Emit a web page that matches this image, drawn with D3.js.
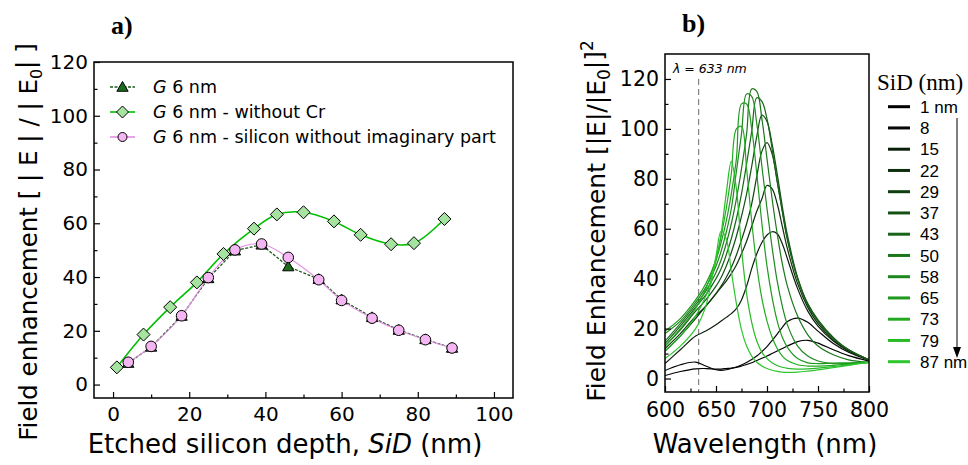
<!doctype html>
<html>
<head>
<meta charset="utf-8"/>
<title>Field enhancement vs etched silicon depth</title>
<script src="https://d3js.org/d3.v7.min.js"></script>
<style>
body { margin:0; background:#fff; }
svg text { font-family: "DejaVu Sans", sans-serif; fill:#000; }
</style>
</head>
<body>
<div id="chart"></div>
<script>
// ---------- panel a data ----------
var sidCr = [1, 8, 15, 22, 29, 37, 43, 50, 58, 65, 73, 79, 87];
var feCr  = [6.4, 18.6, 28.8, 38.0, 48.6, 58.0, 63.3, 64.1, 60.7, 55.7, 52.2, 52.6, 61.6];
var sidSi = [4, 10, 18, 25, 32, 39, 46, 54, 60, 68, 75, 82, 89];
var feSi  = [8.3, 14.2, 25.6, 39.8, 50.1, 52.3, 47.3, 39.0, 31.3, 24.7, 20.2, 16.7, 13.6];
var feG   = [8.0, 14.0, 25.5, 39.5, 49.8, 52.0, 43.9, 39.2, 31.6, 25.0, 20.3, 16.8, 13.6];
var legendA = [" 6 nm", " 6 nm - without Cr", " 6 nm - silicon without imaginary part"];

// ---------- panel b data ----------
var wl = [600,615,630,640,650,655,660,665,670,675,680,685,690,695,700,705,710,715,720,730,740,750,765,780,800];
var s1  = [1.2,2.8,3.9,4.0,3.8,3.8,4.0,4.2,4.5,5.0,5.6,6.3,7.2,8.1,9.0,10.0,11.0,12.0,13.0,14.8,15.3,14.2,11.5,9.2,7.0];
var s8  = [3.2,5.5,6.6,5.0,3.5,3.3,3.5,4.0,4.6,5.4,6.4,7.6,9.0,10.8,12.8,15.2,17.8,20.5,22.8,24.2,22.5,19.0,14.0,10.5,7.3];
var s15 = [6,11.5,17,19,21.5,23,24.5,26,28,31.5,37,44,50,54.5,57.5,58.8,58,54,48,36,27,21,15,11,7.5];
var s22 = [11,17,24,29,34,36.5,39,42,45.5,50,55,61,67,72,77.3,76,70,61,52,38,28.5,22,15.5,11,7.5];
var s29 = [12,18,25,29,34,37,40.5,44.5,49.5,55.5,62,70,81,91,94.5,90,79,67,55.5,40,29.5,23,16,11.5,7.5];
var s37 = [13,19.5,27,31.5,37,40.5,45,50.5,57,65,74,85,97,105.5,103,94,82,69,57.5,40.5,30,23.5,16.5,11.5,7.5];
var s43 = [14,21,28.5,33.5,40,44,49.5,56,64,74,86,99,112.5,111,104,92,79,67,56,40,29.5,23,16,11.5,7.5];
var s50 = [15,22,29.5,35,42.5,47.5,54,62,72,84,98,116,115,104,88,72,58,46,37,25,17.5,13,9.5,7.5,6.5];
var s58 = [18,23,30.5,36.5,45,51,58.5,68,83,98,114,113,102,85,68,52.5,39,29,21.5,13,9,7,6,6,6.5];
var s65 = [19,24,31.5,38,47.5,54.5,63,74,88,110,110,100,82,62,45,32.5,23,16.5,12.5,8,6.3,6,6.2,6.3,6.7];
var s73 = [13,20,28,36,48,57,68,82,100,101,84,63,45,32,23,16.5,12,9,7.2,5.5,5,5,5.3,5.8,6.5];
var s79 = [11,17,25,33,47,58,74,87,76,52,34,22.5,15,10.5,8,6.3,5.2,4.5,4.1,3.8,3.9,4.2,4.8,5.5,6.5];
var s87 = [8,13,20,29,49,59,56,43,30,19.5,13,9,6.5,5,4,3.3,2.9,2.6,2.5,2.6,3,3.5,4.4,5.3,6.5];
var seriesB = [s1, s8, s15, s22, s29, s37, s43, s50, s58, s65, s73, s79, s87];
var sidLabels = ["1 nm", "8", "15", "22", "29", "37", "43", "50", "58", "65", "73", "79", "87 nm"];
var sidColors = ["#000000", "#050905", "#0a1f0a", "#0c2e0c", "#0f3f0f", "#145214", "#186418",
                 "#1b761b", "#1d881d", "#1f9a1f", "#22ab22", "#26bb26", "#2ec62e"];

var svg = d3.select("#chart").append("svg")
    .attr("width", 968)
    .attr("height", 465);

function drawAxes(x, y, xMaj, xMin, yMaj, yMin, fs, padX, padY) {
    var b = y.range()[0], l = x.range()[0];
    var gx = svg.append("g").attr("transform", "translate(0," + b + ")")
        .call(d3.axisBottom(x).tickValues(xMaj).tickSize(-6).tickPadding(padX));
    var gx2 = svg.append("g").attr("transform", "translate(0," + b + ")")
        .call(d3.axisBottom(x).tickValues(xMin).tickSize(-3.5).tickFormat(""));
    var gy = svg.append("g").attr("transform", "translate(" + l + ",0)")
        .call(d3.axisLeft(y).tickValues(yMaj).tickSize(-6).tickPadding(padY));
    var gy2 = svg.append("g").attr("transform", "translate(" + l + ",0)")
        .call(d3.axisLeft(y).tickValues(yMin).tickSize(-3.5).tickFormat(""));
    [gx, gx2, gy, gy2].forEach(function(g) {
        g.select(".domain").remove();
        g.selectAll(".tick line").attr("stroke", "#000").attr("stroke-width", 1.2);
        g.selectAll(".tick text")
            .style("font-size", fs + "px")
            .style("font-family", "'DejaVu Sans', sans-serif");
    });
    svg.append("rect")
        .attr("x", l).attr("y", y.range()[1])
        .attr("width", x.range()[1] - l).attr("height", b - y.range()[1])
        .attr("fill", "none").attr("stroke", "#000").attr("stroke-width", 1.5);
}

// ================= panel a =================
var xa = d3.scaleLinear().domain([-5, 105]).range([94, 513]);
var ya = d3.scaleLinear().domain([-5, 120]).range([398, 62]);

function diamond(r) { return "M0," + (-r) + "L" + r + ",0L0," + r + "L" + (-r) + ",0Z"; }
var triPath = d3.symbol().type(d3.symbolTriangle).size(55)();

var lineSmooth = d3.line().curve(d3.curveCatmullRom.alpha(0.5));
var lineStraight = d3.line();

var ptsCr = sidCr.map(function(d, i) { return [xa(d), ya(feCr[i])]; });
var ptsSi = sidSi.map(function(d, i) { return [xa(d), ya(feSi[i])]; });
var ptsG  = sidSi.map(function(d, i) { return [xa(d), ya(feG[i])]; });

svg.append("path").attr("d", lineSmooth(ptsCr))
    .attr("fill", "none").attr("stroke", "#00c000").attr("stroke-width", 1.6);
svg.append("path").attr("d", lineStraight(ptsG))
    .attr("fill", "none").attr("stroke", "#1a5a1a").attr("stroke-width", 1.3)
    .attr("stroke-dasharray", "3,1.5");
svg.append("path").attr("d", lineSmooth(ptsSi))
    .attr("fill", "none").attr("stroke", "#e48ee4").attr("stroke-width", 1.1);

svg.selectAll(".mkCr").data(ptsCr).enter().append("path")
    .attr("d", diamond(6.5))
    .attr("transform", function(d) { return "translate(" + d[0] + "," + d[1] + ")"; })
    .attr("fill", "#a6e3a0").attr("stroke", "#000").attr("stroke-width", 1);
svg.selectAll(".mkG").data(ptsG).enter().append("path")
    .attr("d", triPath)
    .attr("transform", function(d) { return "translate(" + d[0] + "," + (d[1] + 1) + ")"; })
    .attr("fill", "#1c6e1c").attr("stroke", "#000").attr("stroke-width", 1);
svg.selectAll(".mkSi").data(ptsSi).enter().append("circle")
    .attr("cx", function(d) { return d[0]; }).attr("cy", function(d) { return d[1]; })
    .attr("r", 5.3)
    .attr("fill", "#f4b6f2").attr("stroke", "#000").attr("stroke-width", 1);

drawAxes(xa, ya, [0, 20, 40, 60, 80, 100], [10, 30, 50, 70, 90],
         [0, 20, 40, 60, 80, 100, 120], [10, 30, 50, 70, 90, 110], 20, 9, 6);

// legend a
var legA = svg.append("g");
var legColors = ["#1a5a1a", "#00c000", "#e48ee4"];
var legDash = ["3,1.5", null, null];
legendA.forEach(function(t, i) {
    var yy = 87 + i * 25;
    legA.append("line").attr("x1", 110).attr("x2", 135).attr("y1", yy).attr("y2", yy)
        .attr("stroke", legColors[i]).attr("stroke-width", 1.6).attr("stroke-dasharray", legDash[i]);
    if (i == 0) legA.append("path").attr("d", triPath).attr("transform", "translate(122.5," + (yy + 1) + ")")
        .attr("fill", "#1c6e1c").attr("stroke", "#000");
    if (i == 1) legA.append("path").attr("d", diamond(6)).attr("transform", "translate(122.5," + yy + ")")
        .attr("fill", "#a6e3a0").attr("stroke", "#000");
    if (i == 2) legA.append("circle").attr("cx", 122.5).attr("cy", yy).attr("r", 4.5)
        .attr("fill", "#f4b6f2").attr("stroke", "#000");
    var tx = legA.append("text").attr("x", 153).attr("y", yy).attr("dy", "0.36em")
        .style("font-size", "17.5px");
    tx.append("tspan").attr("font-style", "italic").text("G");
    tx.append("tspan").text(t);
});

// titles a
var xt = svg.append("text").attr("x", 285).attr("y", 453).attr("text-anchor", "middle")
    .style("font-size", "26px");
xt.append("tspan").text("Etched silicon depth, ");
xt.append("tspan").attr("font-style", "italic").text("SiD");
xt.append("tspan").text(" (nm)");

var yt = svg.append("text").attr("transform", "translate(37,242) rotate(-90)")
    .attr("text-anchor", "middle").style("font-size", "24.5px");
yt.append("tspan").text("Field enhancement [ | E | / | E");
yt.append("tspan").style("font-size", "16px").attr("dy", "0.3em").text("0");
yt.append("tspan").attr("dy", "-0.3em").text("| ]");

svg.append("text").attr("x", 111).attr("y", 34)
    .style("font-family", "'Liberation Serif', serif").attr("font-weight", "bold")
    .style("font-size", "26px").text("a)");

// ================= panel b =================
var xb = d3.scaleLinear().domain([600, 800]).range([665, 869]);
var yb = d3.scaleLinear().domain([-5.4, 130]).range([392, 54]);

svg.append("defs").append("clipPath").attr("id", "clipB")
    .append("rect").attr("x", 665).attr("y", 54).attr("width", 204).attr("height", 338);

// dashed 633 nm line
svg.append("line").attr("x1", xb(633)).attr("x2", xb(633)).attr("y1", 79).attr("y2", 392)
    .attr("stroke", "#777").attr("stroke-width", 1.1).attr("stroke-dasharray", "6,4");

var lineB = d3.line()
    .x(function(d, i) { return xb(wl[i]); })
    .y(function(d) { return yb(d); })
    .curve(d3.curveCatmullRom.alpha(0.5));

svg.append("g").attr("clip-path", "url(#clipB)")
    .selectAll("path").data(seriesB).enter().append("path")
    .attr("d", lineB)
    .attr("fill", "none")
    .attr("stroke", function(d, i) { return sidColors[i]; })
    .attr("stroke-width", 1.2);

drawAxes(xb, yb, [600, 650, 700, 750, 800], [625, 675, 725, 775],
         [0, 20, 40, 60, 80, 100, 120], [10, 30, 50, 70, 90, 110], 20.5, 10, 6);

svg.append("text").attr("x", 673).attr("y", 73).attr("font-style", "italic")
    .style("font-size", "12.5px").attr("fill", "#222").text("\u03bb = 633 nm");

svg.append("text").attr("x", 765).attr("y", 453).attr("text-anchor", "middle")
    .style("font-size", "26px").text("Wavelength (nm)");

var ytb = svg.append("text").attr("transform", "translate(605,221) rotate(-90)")
    .attr("text-anchor", "middle").style("font-size", "25px");
ytb.append("tspan").text("Field Enhancement [|E|/|E");
ytb.append("tspan").style("font-size", "17px").attr("dy", "0.3em").text("0");
ytb.append("tspan").attr("dy", "-0.3em").text("|]");
ytb.append("tspan").style("font-size", "17px").attr("dy", "-0.55em").text("2");

svg.append("text").attr("x", 682).attr("y", 32)
    .style("font-family", "'Liberation Serif', serif").attr("font-weight", "bold")
    .style("font-size", "26px").text("b)");

// legend b
svg.append("text").attr("x", 877).attr("y", 90)
    .style("font-family", "'Liberation Serif', serif").style("font-size", "23px").text("SiD (nm)");
var legB = svg.append("g");
sidLabels.forEach(function(t, i) {
    var yy = 106.7 + i * 21.25;
    legB.append("line").attr("x1", 888).attr("x2", 910).attr("y1", yy).attr("y2", yy)
        .attr("stroke", sidColors[i]).attr("stroke-width", 3);
    legB.append("text").attr("x", 920).attr("y", yy).attr("dy", "0.36em")
        .style("font-family", "'Liberation Sans', Arial, sans-serif").style("font-size", "17px").text(t);
});
svg.append("line").attr("x1", 957).attr("x2", 957).attr("y1", 118).attr("y2", 349)
    .attr("stroke", "#000").attr("stroke-width", 1);
svg.append("path").attr("d", "M953,347L961,347L957,358Z").attr("fill", "#000");
</script>
</body>
</html>
